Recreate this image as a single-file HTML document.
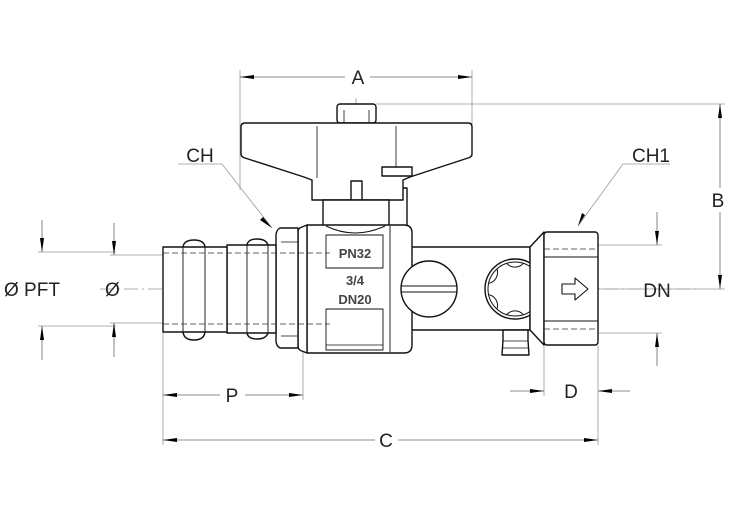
<!DOCTYPE html>
<html><head><style>
html,body{margin:0;padding:0;background:#fff;}
svg{display:block;}
text{font-family:"Liberation Sans","DejaVu Sans",sans-serif;}
</style></head><body>
<svg width="730" height="516" viewBox="0 0 730 516" xmlns="http://www.w3.org/2000/svg">
<g stroke="#999" stroke-width="0.8" fill="none">
<line x1="100" y1="289" x2="700" y2="289" stroke-dasharray="14,4,2,4"/>
<line x1="356" y1="98" x2="356" y2="215" stroke-dasharray="14,4,2,4"/>
<line x1="429" y1="255" x2="429" y2="325" stroke-dasharray="10,3,2,3"/>
<line x1="515" y1="255" x2="515" y2="325" stroke-dasharray="10,3,2,3"/>
<line x1="240" y1="70" x2="240" y2="190"/>
<line x1="472" y1="70" x2="472" y2="157"/>
<line x1="376" y1="104" x2="725" y2="104"/>
<line x1="598" y1="289" x2="725" y2="289"/>
<line x1="163" y1="332" x2="163" y2="445"/>
<line x1="303" y1="345" x2="303" y2="400"/>
<line x1="598" y1="345" x2="598" y2="445"/>
<line x1="544" y1="345" x2="544" y2="396"/>
<line x1="598" y1="245" x2="662" y2="245"/>
<line x1="598" y1="333" x2="662" y2="333"/>
<line x1="38" y1="252" x2="116" y2="252"/>
<line x1="110" y1="255" x2="163" y2="255"/>
<line x1="38" y1="326" x2="116" y2="326"/>
<line x1="110" y1="323" x2="163" y2="323"/>
<polyline points="178,164 222,164 272,228"/>
<polyline points="670,164 623,164 578,226"/>
</g>
<g stroke="#666" stroke-width="0.8" fill="none">
<line x1="240" y1="77" x2="345" y2="77"/>
<line x1="370" y1="77" x2="472" y2="77"/>
<line x1="720" y1="104" x2="720" y2="188"/>
<line x1="720" y1="212" x2="720" y2="289"/>
<line x1="163" y1="395" x2="220" y2="395"/>
<line x1="245" y1="395" x2="303" y2="395"/>
<line x1="163" y1="440" x2="375" y2="440"/>
<line x1="398" y1="440" x2="598" y2="440"/>
<line x1="510" y1="391" x2="544" y2="391"/>
<line x1="630" y1="391" x2="598" y2="391"/>
<line x1="657" y1="212" x2="657" y2="245"/>
<line x1="657" y1="366" x2="657" y2="333"/>
<line x1="42" y1="220" x2="42" y2="252"/>
<line x1="42" y1="360" x2="42" y2="326"/>
<line x1="114" y1="223" x2="114" y2="255"/>
<line x1="114" y1="357" x2="114" y2="323"/>
</g>
<!-- arrowheads -->
<g fill="#000" stroke="none">
<polygon points="240,77 254,75 254,79"/>
<polygon points="472,77 458,75 458,79"/>
<polygon points="720,104 718,118 722,118"/>
<polygon points="720,289 718,275 722,275"/>
<polygon points="163,395 177,393 177,397"/>
<polygon points="303,395 289,393 289,397"/>
<polygon points="163,440 177,438 177,442"/>
<polygon points="598,440 584,438 584,442"/>
<polygon points="544,391 530,389 530,393"/>
<polygon points="598,391 612,389 612,393"/>
<polygon points="657,245 655,231 659,231"/>
<polygon points="657,333 655,347 659,347"/>
<polygon points="42,252 40,238 44,238"/>
<polygon points="42,326 40,340 44,340"/>
<polygon points="114,255 112,241 116,241"/>
<polygon points="114,323 112,337 116,337"/>
<polygon points="272,228 260,220 263,217"/>
<polygon points="578,226 582,213 585,215"/>
</g>
<g stroke="#111" stroke-width="1.4" fill="#fff" stroke-linejoin="round">
<rect x="337" y="104" width="39" height="19" rx="3"/>
<line x1="344" y1="110" x2="344" y2="123" stroke-width="0.8"/>
<line x1="369" y1="110" x2="369" y2="123" stroke-width="0.8"/>
<path d="M245,123 L468,123 Q472,123 472,127 L472,154 Q472,157 468,158 L410,177 L403,180 L403,200 L312,200 L312,180 L304,177 L245,158 Q241,157 241,154 L241,127 Q241,123 245,123 Z"/>
<line x1="317" y1="126" x2="317" y2="178" stroke-width="0.8"/>
<line x1="396" y1="126" x2="396" y2="176" stroke-width="0.8"/>
<path d="M351,200 L351,181 L362,181 L362,200" fill="none"/>
<rect x="382" y="167" width="30" height="9"/>
<path d="M403,188 L407,188 L407,225" fill="none"/>
<rect x="323" y="200" width="66" height="26"/>
<path d="M405,247 L530,247 L530,330 L405,330 Z"/>
<path d="M307,225 L404,225 Q412,225 412,233 L412,345 Q412,353 404,353 L307,353 Z"/>
<path d="M302,227 L307,225 L307,353 L302,351 Q298,350 298,346 L298,232 Q298,228 302,227 Z"/>
<path d="M326,226 Q355,240 385,226" fill="none" stroke-width="1"/>
<line x1="390" y1="226" x2="390" y2="352" stroke-width="0.9"/>
<rect x="326" y="235" width="57" height="33" stroke-width="0.9"/>
<rect x="326" y="309" width="57" height="41" stroke-width="0.9"/>
<line x1="326" y1="345" x2="383" y2="345" stroke-width="0.8"/>
<path d="M280,228 L298,228 L298,348 L280,348 Q276,346 276,340 L276,236 Q276,230 280,228 Z"/>
<line x1="281" y1="242" x2="298" y2="242" stroke-width="0.8"/>
<line x1="281" y1="336" x2="298" y2="336" stroke-width="0.8"/>
<path d="M227,245 L276,245 L276,333 L227,333 Z"/>
<path d="M247,245 Q248,239 257,239 Q266,239 268,245 M247,333 Q248,339 257,339 Q266,339 268,333" fill="none"/>
<line x1="247" y1="245" x2="247" y2="333" stroke-width="0.9"/>
<line x1="268" y1="245" x2="268" y2="333" stroke-width="0.9"/>
<path d="M163,247 L227,247 L227,332 L163,332 Z"/>
<path d="M183,247 Q184,240 194,240 Q204,240 205,247 M183,332 Q184,340 194,340 Q204,340 205,332" fill="none"/>
<line x1="183" y1="247" x2="183" y2="332" stroke-width="0.9"/>
<line x1="205" y1="247" x2="205" y2="332" stroke-width="0.9"/>
<circle cx="429" cy="289" r="28"/>
<line x1="401" y1="286" x2="457" y2="286" stroke-width="0.9"/>
<line x1="401" y1="292" x2="457" y2="292" stroke-width="0.9"/>
<path d="M503,330 L503,340 L502,355 L529,355 L528,340 L528,330 Z"/>
<line x1="503" y1="341" x2="528" y2="341" stroke-width="0.8"/>
<line x1="503" y1="348" x2="528" y2="348" stroke-width="0.8"/>
<circle cx="515" cy="289" r="30"/>
<circle cx="515" cy="289" r="27" stroke-width="1"/>
<path d="M506.66,263.32 A11 11 0 0 0 523.34,263.32 M533.07,268.94 A11 11 0 0 0 541.41,283.39 M541.41,294.61 A11 11 0 0 0 533.07,309.06 M523.34,314.68 A11 11 0 0 0 506.66,314.68 M496.93,309.06 A11 11 0 0 0 488.59,294.61 M488.59,283.39 A11 11 0 0 0 496.93,268.94" fill="none" stroke-width="1"/>
<path d="M530,247 L544,232 L544,345 L530,330 Z"/>
<rect x="544" y="232" width="54" height="113" rx="3"/>
<line x1="544" y1="257" x2="598" y2="257" stroke-width="0.9"/>
<line x1="544" y1="321" x2="598" y2="321" stroke-width="0.9"/>
<path d="M562,284 L575,284 L575,278 L588,289 L575,300 L575,294 L562,294 Z" stroke-width="1.1"/>
</g>
<g stroke="#333" stroke-width="0.8" stroke-dasharray="6,3" fill="none">
<line x1="163" y1="253" x2="330" y2="253"/>
<line x1="163" y1="324" x2="330" y2="324"/>
<line x1="544" y1="249" x2="598" y2="249"/>
<line x1="544" y1="329" x2="598" y2="329"/>
</g>
<g fill="#222" font-size="19">
<text x="358" y="84" text-anchor="middle">A</text>
<text x="718" y="207" text-anchor="middle">B</text>
<text x="232" y="402" text-anchor="middle">P</text>
<text x="386" y="447" text-anchor="middle">C</text>
<text x="571" y="398" text-anchor="middle">D</text>
<text x="657" y="297" text-anchor="middle">DN</text>
<text x="200" y="162" text-anchor="middle">CH</text>
<text x="651" y="162" text-anchor="middle">CH1</text>
<text x="4" y="296">Ø PFT</text>
<text x="105" y="296">Ø</text>
</g>
<g fill="#444" font-size="13" font-weight="bold" text-anchor="middle">
<text x="355" y="258">PN32</text>
<text x="355" y="285">3/4</text>
<text x="355" y="304">DN20</text>
</g>
</svg>
</body></html>
